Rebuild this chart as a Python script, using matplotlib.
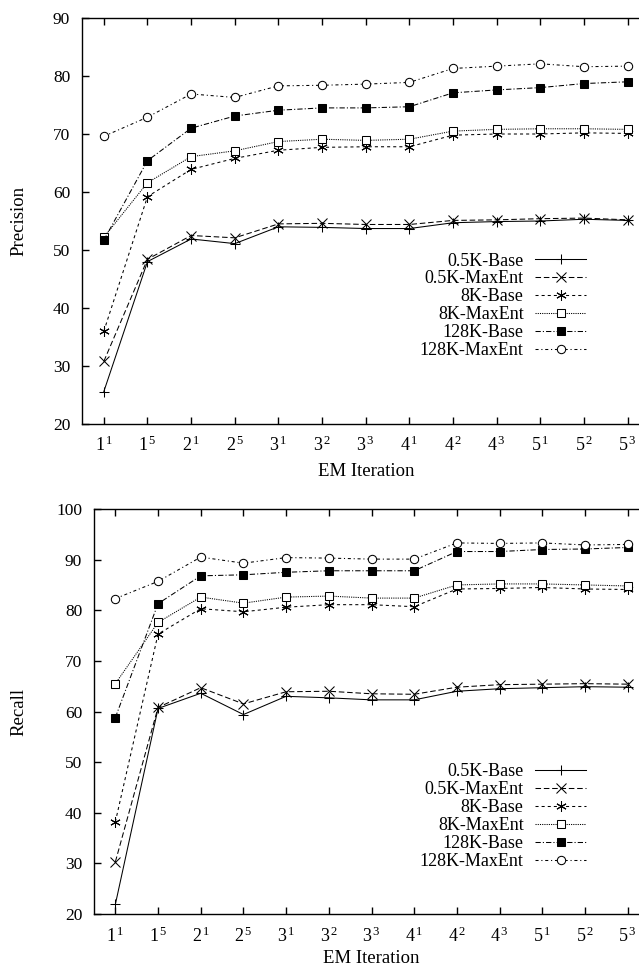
"""
Precision / recall over EM iterations, two stacked panels (gnuplot look).
"""
import matplotlib
matplotlib.use('Agg')
from matplotlib import pyplot as plt

plt.rcParams['font.family'] = ['Liberation Serif', 'DejaVu Serif']
plt.rcParams['mathtext.fontset'] = 'custom'
plt.rcParams['mathtext.rm'] = 'Liberation Serif'
plt.rcParams['mathtext.it'] = 'Liberation Serif:italic'
plt.rcParams['lines.scale_dashes'] = False

# x categories (base, exponent)
iterations = ['1^1', '1^5', '2^1', '2^5', '3^1', '3^2', '3^3',
              '4^1', '4^2', '4^3', '5^1', '5^2', '5^3']
tick_labels = [r'$%s^{\,%s}$' % tuple(s.split('^')) for s in iterations]

series_names = ['0.5K-Base', '0.5K-MaxEnt', '8K-Base', '8K-MaxEnt',
                '128K-Base', '128K-MaxEnt']

# precision values
prec_05k_base = [25.6, 48.0, 51.9, 51.1, 54.0, 53.9, 53.7, 53.7, 54.7, 54.9, 55.0, 55.3, 55.1]
prec_05k_maxent = [30.8, 48.4, 52.5, 52.1, 54.5, 54.6, 54.4, 54.4, 55.1, 55.2, 55.4, 55.5, 55.2]
prec_8k_base = [36.0, 59.2, 63.9, 65.8, 67.2, 67.7, 67.8, 67.8, 69.8, 70.0, 70.0, 70.2, 70.1]
prec_8k_maxent = [52.2, 61.6, 66.1, 67.1, 68.7, 69.1, 68.9, 69.1, 70.5, 70.8, 70.9, 70.9, 70.8]
prec_128k_base = [51.7, 65.4, 71.0, 73.1, 74.1, 74.5, 74.5, 74.7, 77.1, 77.6, 78.0, 78.7, 79.0]
prec_128k_maxent = [69.6, 72.9, 76.9, 76.3, 78.3, 78.4, 78.6, 78.9, 81.3, 81.7, 82.1, 81.6, 81.7]

# recall values
rec_05k_base = [21.9, 60.6, 63.6, 59.4, 63.0, 62.7, 62.3, 62.3, 64.0, 64.5, 64.7, 64.9, 64.8]
rec_05k_maxent = [30.3, 60.8, 64.7, 61.5, 63.9, 64.0, 63.5, 63.4, 64.8, 65.3, 65.4, 65.5, 65.4]
rec_8k_base = [38.2, 75.3, 80.3, 79.7, 80.6, 81.1, 81.1, 80.7, 84.2, 84.3, 84.5, 84.2, 84.1]
rec_8k_maxent = [65.5, 77.6, 82.6, 81.4, 82.6, 82.8, 82.4, 82.4, 85.0, 85.2, 85.2, 85.0, 84.8]
rec_128k_base = [58.8, 81.3, 86.8, 87.0, 87.5, 87.8, 87.8, 87.8, 91.6, 91.6, 92.0, 92.1, 92.4]
rec_128k_maxent = [82.3, 85.7, 90.5, 89.3, 90.4, 90.3, 90.1, 90.1, 93.3, 93.2, 93.3, 92.9, 93.0]

precision = [prec_05k_base, prec_05k_maxent, prec_8k_base, prec_8k_maxent,
             prec_128k_base, prec_128k_maxent]
recall = [rec_05k_base, rec_05k_maxent, rec_8k_base, rec_8k_maxent,
          rec_128k_base, rec_128k_maxent]

# gnuplot-ish point and dash types
styles = [
    dict(marker='+', ls='-', ms=7.5, mfc='none'),
    dict(marker='x', ls=(0, (4.0, 2.0)), ms=6.5, mfc='none'),
    dict(marker=(6, 2, 0), ls=(0, (2.2, 2.2)), ms=7.5, mfc='none'),
    dict(marker='s', ls=(0, (0.8, 0.8)), ms=6, mfc='white'),
    dict(marker='s', ls=(0, (3.8, 1.5, 0.8, 1.5)), ms=6, mfc='black'),
    dict(marker='o', ls=(0, (2.2, 2.0, 0.8, 2.0)), ms=6, mfc='white'),
]

W, H = 639, 968
fig = plt.figure(figsize=(W / 100, H / 100), dpi=100)

# axes boxes in pixels (left, top, right, bottom); right spine runs off the page
boxes = [(82, 18, 649.5, 424), (94, 509, 649, 914)]
ylims = [(20, 90), (20, 100)]
ylabels = ['Precision', 'Recall']
datasets = [precision, recall]
legend_top = [252.5, 763.5]
x_pad = [8, 9]
x_labelpad = [6, 3]
x = list(range(len(iterations)))

for i, (box, ylim, ylab, data, ltop) in enumerate(zip(boxes, ylims, ylabels, datasets, legend_top)):
    l, t, r, b = box
    ax = fig.add_axes([l / W, 1 - b / H, (r - l) / W, (b - t) / H])
    for name, vals, st in zip(series_names, data, styles):
        ax.plot(x, vals, color='black', lw=0.75, marker=st['marker'], ls=st['ls'],
                ms=st['ms'], mfc=st['mfc'], mec='black', mew=0.75, label=name)

    ax.set_xlim(-0.5, len(iterations) - 0.5)
    ax.set_ylim(*ylim)
    ax.set_yticks(range(ylim[0], ylim[1] + 1, 10))
    ax.set_xticks(x)
    ax.set_xticklabels(tick_labels)
    ax.tick_params(direction='in', length=5, width=1.0, labelsize=12.5,
                   top=True, right=True)
    ax.tick_params(axis='y', pad=8.5)
    ax.tick_params(axis='x', pad=x_pad[i], labelsize=13)
    for sp in ax.spines.values():
        sp.set_linewidth(1.0)

    ax.set_xlabel('EM Iteration', fontsize=13.5, labelpad=x_labelpad[i])
    ax.set_ylabel(ylab, fontsize=13.5)
    ax.yaxis.set_label_coords(-(l - 27) / (r - l), 0.5)

    ax.legend(loc='upper right', bbox_to_anchor=(586 / W, 1 - ltop / H),
              bbox_transform=fig.transFigure, frameon=False, markerfirst=False,
              handlelength=2.8, handletextpad=0.65, borderpad=0, borderaxespad=0,
              labelspacing=0.05, fontsize=13)

fig.savefig('out.png', dpi=100)
